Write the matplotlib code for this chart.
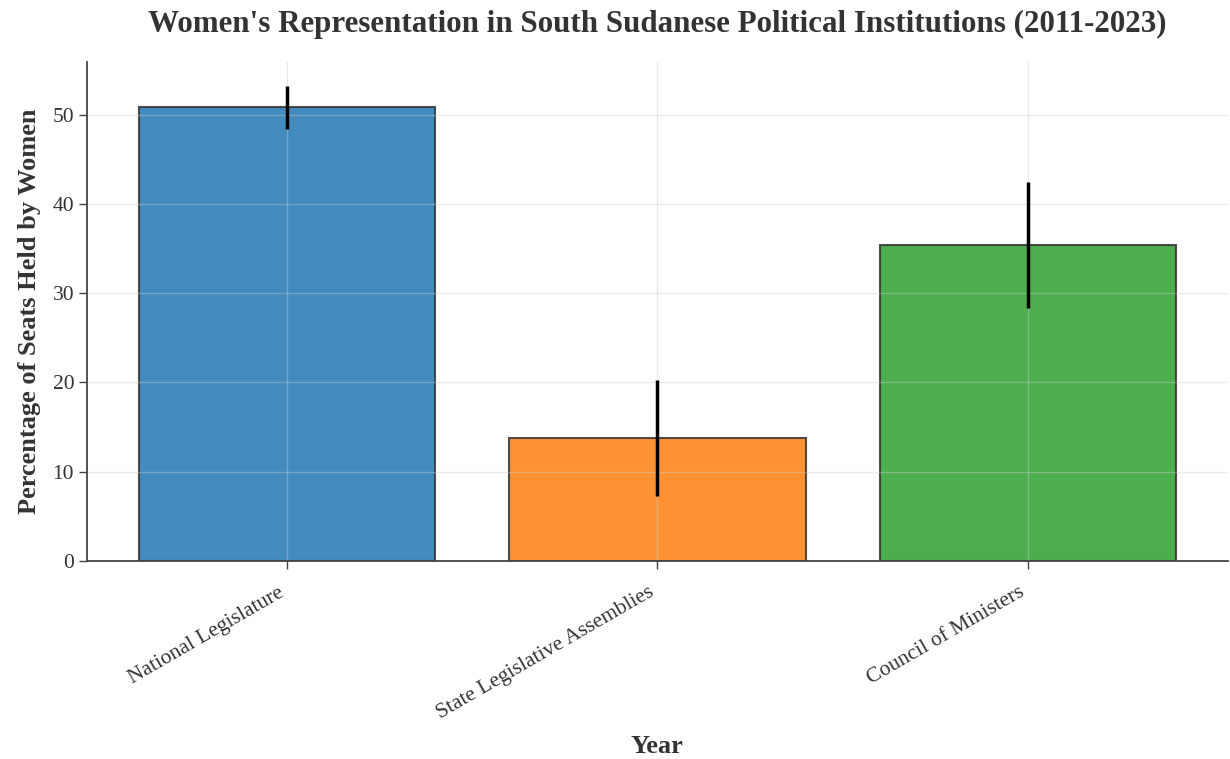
import matplotlib
matplotlib.use("Agg")
import matplotlib.pyplot as plt
import numpy as np

plt.rcParams['font.family'] = ['Liberation Serif', 'DejaVu Serif']

institutions = ['National Legislature', 'State Legislative Assemblies', 'Council of Ministers']
women_share = [50.8, 13.8, 35.35]
share_err = [2.4, 6.5, 7.05]
colors = ['#1f77b4', '#ff7f0e', '#2ca02c']

fig, ax = plt.subplots(figsize=(12.3, 7.59), dpi=100)
fig.subplots_adjust(left=0.071, right=0.998, top=0.918, bottom=0.261)

x = np.arange(len(institutions))
ax.bar(x, women_share, yerr=share_err, color=colors, alpha=0.85,
       edgecolor='#333333', linewidth=1.5, width=0.8,
       error_kw=dict(ecolor='black', elinewidth=2.5, capsize=0))

ax.set_xticks(x)
ax.set_xticklabels(institutions, rotation=30, ha='right', fontsize=15.5, color='#333333')
ax.tick_params(axis='y', labelsize=15.5, labelcolor='#333333')
ax.tick_params(axis='both', direction='out', length=6, width=1, color='#444444')
ax.tick_params(axis='x', pad=10)

ax.set_title("Women's Representation in South Sudanese Political Institutions (2011-2023)",
             fontsize=22.3, fontweight='bold', color='#333333', pad=22)
ax.set_xlabel('Year', fontsize=19, fontweight='bold', color='#333333', labelpad=8)
ax.set_ylabel('Percentage of Seats Held by Women', fontsize=19, fontweight='bold',
              color='#333333', labelpad=8)

ax.grid(True, color='#cccccc', alpha=0.4, linewidth=1)
for side in ['top', 'right']:
    ax.spines[side].set_visible(False)
for side in ['left', 'bottom']:
    ax.spines[side].set_color('#444444')
    ax.spines[side].set_linewidth(1.3)

fig.savefig('out.png', dpi=100)
